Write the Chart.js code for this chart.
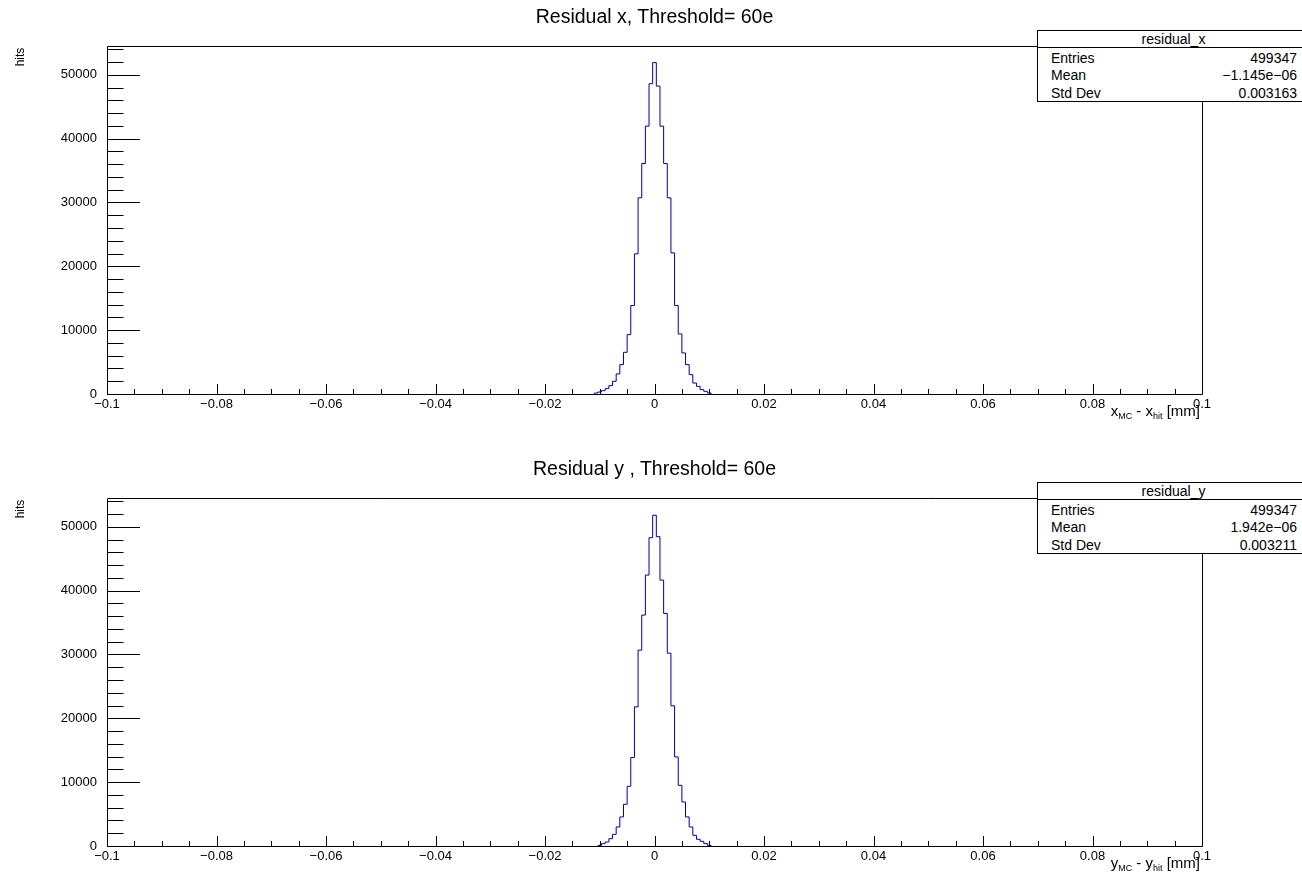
<!DOCTYPE html>
<html>
<head>
<meta charset="utf-8">
<script src="https://cdn.jsdelivr.net/npm/chart.js@4.4.1/dist/chart.umd.min.js"></script>
<style>
  body { margin: 0; background: #fff; }
  #page { position: relative; width: 1302px; height: 880px; overflow: hidden; background: #fff;
          font-family: "Liberation Sans", Arial, sans-serif; color: #000; }
  canvas { position: absolute; left: 0; }
  .title { position: absolute; left: 0; width: 1309px; text-align: center; font-size: 19.5px; line-height: 20px; white-space: nowrap; }
  .ytitle { position: absolute; left: 20px; font-size: 12px; line-height: 12px; white-space: nowrap;
            transform: translate(-50%, -50%) rotate(-90deg); }
  .xtitle { position: absolute; right: 102px; font-size: 15px; line-height: 16px; white-space: nowrap; }
  .xtitle sub { font-size: 9px; vertical-align: -3px; line-height: 0; }
  .stats { position: absolute; left: 1037px; width: 273px; height: 72px; box-sizing: border-box;
           border: 1px solid #000; background: #fff; font-size: 14px; }
  .stats .head { height: 16px; line-height: 16px; border-bottom: 1px solid #000; text-align: center; }
  .stats .body { padding-top: 2px; }
  .stats .row { height: 17.3px; line-height: 17px; padding: 0 12px 0 13px; display: flex; justify-content: space-between; }
</style>
</head>
<body>
<div id="page">
  <canvas id="resX" width="1302" height="440" style="top:0px"></canvas>
  <canvas id="resY" width="1302" height="428" style="top:452px"></canvas>

  <div class="title" style="top:6px">Residual x, Threshold= 60e</div>
  <div class="title" style="top:458px">Residual y , Threshold= 60e</div>

  <div class="ytitle" style="top:57px">hits</div>
  <div class="ytitle" style="top:509px">hits</div>

  <div class="xtitle" style="top:403px">x<sub>MC</sub> - x<sub>hit</sub> [mm]</div>
  <div class="xtitle" style="top:855px">y<sub>MC</sub> - y<sub>hit</sub> [mm]</div>

  <div class="stats" style="top:30px">
    <div class="head">residual_x</div>
    <div class="body">
      <div class="row"><span>Entries</span><span>499347</span></div>
      <div class="row"><span>Mean</span><span>&minus;1.145e&minus;06</span></div>
      <div class="row"><span>Std Dev</span><span>0.003163</span></div>
    </div>
  </div>
  <div class="stats" style="top:482px">
    <div class="head">residual_y</div>
    <div class="body">
      <div class="row"><span>Entries</span><span>499347</span></div>
      <div class="row"><span>Mean</span><span>1.942e&minus;06</span></div>
      <div class="row"><span>Std Dev</span><span>0.003211</span></div>
    </div>
  </div>
</div>

<script>
// histogram: 300 bins over [-0.1, 0.1], only the filled bins around 0 are listed
const binWidth = 0.2 / 300;

// residual_x, bins centred at k*binWidth for k = -16 .. 15
const resXFirstBin = -16;
const resXCounts = [150, 310, 520, 840, 1310, 1990, 3140, 4600, 6530, 9300, 13850, 21950, 30720, 36100, 41950, 48590,
                    51900,
                    48220, 41950, 36100, 30720, 22100, 13850, 9400, 6430, 4600, 3030, 1720, 1200, 680, 420, 160];

// residual_y, bins centred at k*binWidth for k = -15 .. 15
const resYFirstBin = -15;
const resYCounts = [105, 370, 630, 1150, 1830, 2980, 4550, 6530, 9350, 13850, 21790, 30670, 36160, 42430, 48280,
                    51800,
                    48440, 41640, 36420, 30200, 21950, 13950, 9510, 6900, 4550, 2980, 1670, 1050, 730, 370, 105];

const xTicks = [-0.1, -0.08, -0.06, -0.04, -0.02, 0, 0.02, 0.04, 0.06, 0.08, 0.1];
const yTicks = [0, 10000, 20000, 30000, 40000, 50000];
const xMinorStep = 0.005;
const yMinorStep = 2000;
const yMax = 54500;

const tickFont = { family: 'Liberation Sans', size: 13 };

function histPoints(counts, firstBin) {
  const pts = [{ x: (firstBin - 0.5) * binWidth, y: 0 }];
  counts.forEach((c, i) => pts.push({ x: (firstBin + i - 0.5) * binWidth, y: c }));
  pts.push({ x: (firstBin + counts.length - 0.5) * binWidth, y: 0 });
  return pts;
}

// ROOT style frame with ticks drawn inside
const rootAxes = {
  id: 'rootAxes',
  afterDraw(chart) {
    const { ctx, chartArea: a } = chart;
    const x = chart.scales.x, y = chart.scales.y;
    ctx.save();
    ctx.strokeStyle = '#000';
    ctx.lineWidth = 1;
    ctx.beginPath();
    ctx.rect(a.left + 0.5, a.top + 0.5, a.right - a.left, a.bottom - a.top);
    for (let v = 0; v <= y.max; v += yMinorStep) {
      const py = Math.round(y.getPixelForValue(v)) + 0.5;
      const len = v % 10000 === 0 ? 33 : 16.5;
      ctx.moveTo(a.left, py);
      ctx.lineTo(a.left + len, py);
    }
    for (let i = 0; x.min + i * xMinorStep <= x.max + 1e-9; i++) {
      const px = Math.round(x.getPixelForValue(x.min + i * xMinorStep)) + 0.5;
      const len = i % 4 === 0 ? 10 : 5;
      ctx.moveTo(px, a.bottom);
      ctx.lineTo(px, a.bottom - len);
    }
    ctx.stroke();
    ctx.restore();
  }
};

function makeChart(id, height, counts, firstBin) {
  return new Chart(document.getElementById(id), {
    type: 'line',
    data: {
      datasets: [{
        data: histPoints(counts, firstBin),
        stepped: true,
        borderColor: '#000099',
        borderWidth: 1,
        pointRadius: 0,
        fill: false
      }]
    },
    options: {
      responsive: false,
      animation: false,
      devicePixelRatio: 1,
      layout: { padding: { left: 0, top: 46, right: 100, bottom: 0 } },
      plugins: { legend: { display: false }, tooltip: { enabled: false }, title: { display: false } },
      scales: {
        x: {
          type: 'linear',
          min: -0.1,
          max: 0.1,
          grid: { display: false, drawTicks: false },
          border: { display: false },
          afterBuildTicks: s => { s.ticks = xTicks.map(value => ({ value })); },
          afterFit: s => { s.height = height - 394; },
          ticks: {
            padding: 3,
            font: tickFont,
            color: '#000',
            autoSkip: false,
            maxRotation: 0,
            callback: v => String(Math.round(v * 1000) / 1000).replace('-', '\u2212')
          }
        },
        y: {
          type: 'linear',
          min: 0,
          max: yMax,
          grid: { display: false, drawTicks: false },
          border: { display: false },
          afterBuildTicks: s => { s.ticks = yTicks.map(value => ({ value })); },
          afterFit: s => { s.width = 107; },
          ticks: {
            padding: 10,
            font: tickFont,
            color: '#000',
            autoSkip: false,
            callback: v => String(v)
          }
        }
      }
    },
    plugins: [rootAxes]
  });
}

makeChart('resX', 440, resXCounts, resXFirstBin);
makeChart('resY', 428, resYCounts, resYFirstBin);
</script>
</body>
</html>
